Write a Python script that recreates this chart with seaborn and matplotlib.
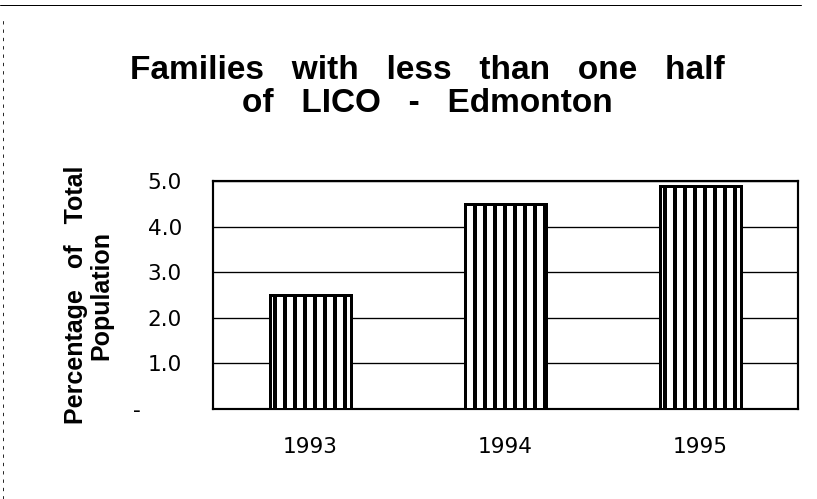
import matplotlib
matplotlib.use("Agg")
import matplotlib.pyplot as plt
from matplotlib.lines import Line2D
import pandas as pd
import seaborn as sns

# chart data
years = ["1993", "1994", "1995"]
pct = [2.5, 4.5, 4.9]
yticks = [0, 1, 2, 3, 4, 5]
ytick_labels = ["-      ", "1.0", "2.0", "3.0", "4.0", "5.0"]

df = pd.DataFrame({"Year": years, "Pct": pct})

sns.set_style("white")
plt.rcParams["font.family"] = ["Liberation Sans", "DejaVu Sans"]
plt.rcParams["text.color"] = "black"
plt.rcParams["axes.labelcolor"] = "black"
plt.rcParams["xtick.color"] = "black"
plt.rcParams["ytick.color"] = "black"
plt.rcParams["hatch.linewidth"] = 2.4
plt.rcParams["hatch.color"] = "black"

dpi = 120
fig = plt.figure(figsize=(817 / dpi, 499 / dpi), dpi=dpi)
ax = fig.add_axes([213 / 817, 90 / 499, 585 / 817, 228 / 499])

sns.barplot(data=df, x="Year", y="Pct", color="white", edgecolor="black",
            linewidth=1.8, width=0.42, ax=ax, zorder=3)
for p in ax.patches:
    p.set_hatch("||")
    p.set_facecolor("white")

tick_font = {"family": "DejaVu Sans", "size": 13}

ax.set_xlim(-0.5, 2.5)
ax.set_ylim(0, 5)
ax.set_yticks(yticks)
ax.set_yticklabels(ytick_labels, fontdict=tick_font)
ax.set_xticks(range(len(years)))
ax.set_xticklabels(years, fontdict=tick_font)
ax.set_xticks([-0.5, 0.5, 1.5, 2.5], minor=True)
ax.tick_params(axis="x", which="major", length=0, pad=17)
ax.tick_params(axis="x", which="minor", direction="inout", length=9,
               width=1.0, color="black")
ax.tick_params(axis="y", direction="out", length=3.6, width=1.0,
               color="black", pad=15)
ax.set_axisbelow(True)
ax.yaxis.grid(True, color="black", linewidth=0.8)
ax.xaxis.grid(False)
for s in ax.spines.values():
    s.set_visible(True)
    s.set_color("black")
    s.set_linewidth(1.3)

ax.set_xlabel("")
ax.set_ylabel("Percentage   of   Total\nPopulation", fontsize=15,
              fontweight="bold", labelpad=12, linespacing=1.05)

fig.text(0.523, 0.826,
         "Families   with   less   than   one   half\n"
         "of   LICO   -   Edmonton",
         ha="center", va="center", fontsize=20, fontweight="bold",
         linespacing=1.1)

# scan border remnants
fig.add_artist(Line2D([0.0, 0.98], [0.99, 0.99], color="black", linewidth=0.6))
fig.add_artist(Line2D([0.004, 0.004], [0.0, 0.96], color="black",
                      linewidth=0.5, linestyle=(0, (4, 6))))

fig.savefig("out.png", dpi=dpi, facecolor="white")
